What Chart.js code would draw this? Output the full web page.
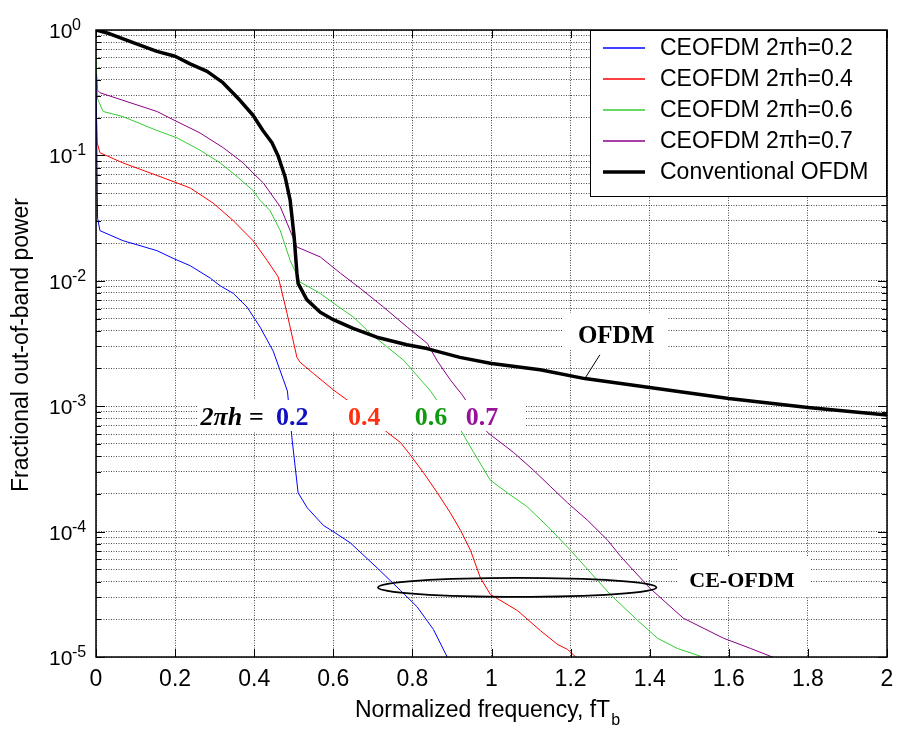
<!DOCTYPE html>
<html><head><meta charset="utf-8">
<script src="https://cdn.jsdelivr.net/npm/chart.js@4.4.0/dist/chart.umd.min.js"></script>
<style>html,body{margin:0;padding:0;background:#fff;}canvas{display:block;}</style>
</head><body>
<canvas id="c" width="897" height="729"></canvas>
<script>
// ---------------- DATA ----------------
const seriesLabels = ['CEOFDM 2\u03C0h=0.2', 'CEOFDM 2\u03C0h=0.4', 'CEOFDM 2\u03C0h=0.6', 'CEOFDM 2\u03C0h=0.7', 'Conventional OFDM'];

const freqH02 = [0, 0.004, 0.01, 0.068, 0.154, 0.195, 0.238, 0.289, 0.314, 0.347, 0.382, 0.415, 0.448, 0.484, 0.496, 0.511, 0.534, 0.575, 0.6, 0.643, 0.711, 0.77, 0.812, 0.853, 0.888, 0.9];
const powH02 = [0.447, 0.0316, 0.0251, 0.0209, 0.0174, 0.0151, 0.0132, 0.0105, 0.00912, 0.00794, 0.00617, 0.00427, 0.00275, 0.00132, 0.000537, 0.000204, 0.000155, 0.000112, 0.0001, 8.13e-5, 5.13e-5, 3.39e-5, 2.51e-5, 1.66e-5, 1.0e-5, 8.3e-6];

const freqH04 = [0, 0.003, 0.01, 0.068, 0.154, 0.205, 0.238, 0.296, 0.347, 0.397, 0.433, 0.461, 0.483, 0.508, 0.516, 0.55, 0.6, 0.635, 0.737, 0.77, 0.795, 0.828, 0.863, 0.896, 0.922, 0.947, 0.972, 0.997, 1.066, 1.124, 1.167, 1.192, 1.213, 1.225];
const powH04 = [0.316, 0.126, 0.105, 0.0871, 0.0692, 0.0603, 0.055, 0.0417, 0.0302, 0.0209, 0.0145, 0.0107, 0.0055, 0.00245, 0.00224, 0.00182, 0.00135, 0.00112, 0.000617, 0.000513, 0.000407, 0.000295, 0.000204, 0.000141, 0.000102, 7.08e-5, 4.27e-5, 3.16e-5, 2.34e-5, 1.62e-5, 1.26e-5, 1.15e-5, 1.0e-5, 8.7e-6];

const freqH06 = [0, 0.004, 0.018, 0.068, 0.154, 0.205, 0.263, 0.314, 0.357, 0.397, 0.415, 0.44, 0.466, 0.491, 0.516, 0.567, 0.61, 0.651, 0.694, 0.737, 0.777, 0.846, 0.863, 0.922, 0.955, 0.997, 1.04, 1.09, 1.142, 1.2, 1.251, 1.3, 1.37, 1.42, 1.47, 1.534, 1.55];
const powH06 = [0.603, 0.282, 0.224, 0.204, 0.158, 0.138, 0.11, 0.0871, 0.0676, 0.0525, 0.0437, 0.0363, 0.0251, 0.0145, 0.00977, 0.00794, 0.00631, 0.00513, 0.0038, 0.00295, 0.00234, 0.00132, 0.0011, 0.000646, 0.000427, 0.000257, 0.000204, 0.000158, 0.00011, 7.08e-5, 4.68e-5, 3.16e-5, 1.95e-5, 1.41e-5, 1.17e-5, 1.0e-5, 9.3e-6];

const freqH07 = [0, 0.004, 0.01, 0.068, 0.154, 0.205, 0.263, 0.322, 0.372, 0.397, 0.423, 0.466, 0.491, 0.508, 0.567, 0.618, 0.668, 0.727, 0.787, 0.838, 0.863, 0.896, 0.926, 0.99, 1.056, 1.106, 1.149, 1.192, 1.243, 1.294, 1.327, 1.4, 1.485, 1.587, 1.655, 1.71, 1.73];
const powH07 = [0.501, 0.331, 0.316, 0.275, 0.224, 0.186, 0.151, 0.115, 0.0871, 0.0724, 0.0603, 0.0389, 0.0251, 0.0186, 0.0155, 0.0115, 0.00871, 0.00617, 0.00427, 0.00316, 0.00229, 0.00162, 0.00123, 0.000617, 0.000427, 0.000309, 0.000229, 0.00017, 0.000123, 8.51e-5, 6.31e-5, 3.55e-5, 2.04e-5, 1.41e-5, 1.17e-5, 1.0e-5, 9.3e-6];

const freqOFDM = [0, 0.035, 0.094, 0.154, 0.2, 0.238, 0.281, 0.321, 0.364, 0.397, 0.422, 0.445, 0.46, 0.478, 0.491, 0.501, 0.508, 0.511, 0.533, 0.567, 0.6, 0.65, 0.71, 0.786, 0.837, 0.92, 1.0, 1.123, 1.236, 1.4, 1.6, 1.8, 2.0];
const powOFDM = [1, 0.933, 0.794, 0.676, 0.617, 0.537, 0.468, 0.380, 0.275, 0.209, 0.158, 0.126, 0.1, 0.0676, 0.0437, 0.0224, 0.0115, 0.00955, 0.00708, 0.00562, 0.0049, 0.00417, 0.00355, 0.00309, 0.00288, 0.00245, 0.00219, 0.00195, 0.00166, 0.00141, 0.00115, 0.000977, 0.000851];

const xTickValues = [0, 0.2, 0.4, 0.6, 0.8, 1, 1.2, 1.4, 1.6, 1.8, 2];
const xTickLabels = ['0', '0.2', '0.4', '0.6', '0.8', '1', '1.2', '1.4', '1.6', '1.8', '2'];
const yDecadeExponents = [0, -1, -2, -3, -4, -5];
const yMinorMultipliers = [1, 2, 3, 4, 5, 6, 7, 8, 9];

const hLabelText = '2\u03C0h =';
const hLabelValues = ['0.2', '0.4', '0.6', '0.7'];

// ---------------- STYLE ----------------
const SANS = "'Liberation Sans', Arial, Helvetica, sans-serif";
const SERIF = "'Liberation Serif', 'Times New Roman', Times, serif";
const lineColors = ['#0000ff', '#ff0000', '#33cc33', '#880088', '#000000'];
const lineWidths = [1, 1, 1, 1, 3.5];
const hValueColors = ['#1010c0', '#ff3010', '#109a10', '#9a109a'];

const yGridValues = [];
yDecadeExponents.slice().reverse().forEach(e => {
  yMinorMultipliers.forEach(m => {
    const v = m * Math.pow(10, e);
    if (v <= 1.0000001) yGridValues.push(+v.toPrecision(3));
  });
});

const pairs = (xs, ys) => xs.map((x, i) => ({x: x, y: ys[i]}));
const allFreq = [freqH02, freqH04, freqH06, freqH07, freqOFDM];
const allPow = [powH02, powH04, powH06, powH07, powOFDM];

const datasets = allFreq.map((f, i) => ({
  label: seriesLabels[i],
  data: pairs(f, allPow[i]),
  borderColor: lineColors[i],
  backgroundColor: lineColors[i],
  borderWidth: lineWidths[i],
  showLine: true,
  pointRadius: 0,
  tension: 0,
  borderJoinStyle: 'round',
  order: i === 4 ? 0 : 1
}));

function drawLine(ctx, x1, y1, x2, y2) {
  ctx.beginPath(); ctx.moveTo(x1, y1); ctx.lineTo(x2, y2); ctx.stroke();
}

const decor = {
  id: 'decor',
  afterDatasetsDraw(chart) {
    const {ctx, chartArea: a, scales} = chart;
    const X = v => scales.x.getPixelForValue(v);
    const Y = v => scales.y.getPixelForValue(v);
    ctx.save();
    // inward ticks
    ctx.strokeStyle = '#000';
    ctx.lineWidth = 1;
    yGridValues.forEach(v => {
      const py = Math.round(Y(v)) + 0.5;
      const major = Math.abs(Math.log10(v) - Math.round(Math.log10(v))) < 1e-6;
      const len = major ? 9 : 5;
      drawLine(ctx, a.left, py, a.left + len, py);
      drawLine(ctx, a.right, py, a.right - len, py);
    });
    xTickValues.forEach(v => {
      const px = Math.round(X(v)) + 0.5;
      drawLine(ctx, px, a.bottom, px, a.bottom - 8);
      drawLine(ctx, px, a.top, px, a.top + 8);
    });
    // frame
    ctx.lineWidth = 1.5;
    ctx.strokeRect(a.left, a.top, a.right - a.left, a.bottom - a.top);

    // annotation boxes
    const whiteBox = (x1, y1, x2, y2) => {
      ctx.fillStyle = '#fff';
      ctx.fillRect(X(x1), Y(y1), X(x2) - X(x1), Y(y2) - Y(y1));
    };
    // 2πh = ...
    whiteBox(0.258, 0.00112, 1.085, 0.000634);
    ctx.textAlign = 'center';
    ctx.textBaseline = 'alphabetic';
    ctx.font = "italic bold 26px " + SERIF;
    ctx.fillStyle = '#000';
    ctx.fillText(hLabelText, X(0.344), Y(0.000708));
    ctx.font = "bold 26px " + SERIF;
    const hx = [0.496, 0.678, 0.847, 0.976];
    hLabelValues.forEach((t, i) => {
      ctx.fillStyle = hValueColors[i];
      ctx.fillText(t, X(hx[i]), Y(0.000708));
    });
    // OFDM
    whiteBox(1.181, 0.00553, 1.446, 0.0028);
    ctx.fillStyle = '#000';
    ctx.font = "bold 25px " + SERIF;
    ctx.fillText('OFDM', X(1.315), Y(0.00319));
    ctx.strokeStyle = '#000';
    ctx.lineWidth = 1;
    drawLine(ctx, X(1.274), Y(0.00257), X(1.236), Y(0.00166));
    // CE-OFDM
    whiteBox(1.469, 6.3e-5, 1.805, 3.0e-5);
    ctx.fillStyle = '#000';
    ctx.font = "bold 22px " + SERIF;
    ctx.fillText('CE-OFDM', X(1.633), Y(3.63e-5));
    // ellipse
    const ex1 = X(0.713), ex2 = X(1.417), ey1 = Y(4.27e-5), ey2 = Y(3.02e-5);
    ctx.beginPath();
    ctx.ellipse((ex1 + ex2) / 2, (ey1 + ey2) / 2, (ex2 - ex1) / 2, (ey2 - ey1) / 2, 0, 0, Math.PI * 2);
    ctx.lineWidth = 1.8;
    ctx.stroke();
    ctx.restore();
  },
  afterDraw(chart) {
    const {ctx, chartArea: a, scales} = chart;
    const Y = v => scales.y.getPixelForValue(v);
    ctx.save();
    // y tick labels 10^n
    ctx.fillStyle = '#000';
    ctx.textAlign = 'left';
    ctx.textBaseline = 'alphabetic';
    yDecadeExponents.forEach(e => {
      const py = Y(Math.pow(10, e));
      ctx.font = "21px " + SANS;
      ctx.fillText('10', 49, py + 8);
      ctx.font = "16px " + SANS;
      ctx.fillText(String(e), 72, py);
    });
    // x title with subscript
    ctx.font = "23px " + SANS;
    const main = 'Normalized frequency, fT';
    const wMain = ctx.measureText(main).width;
    ctx.font = "16px " + SANS;
    const wSub = ctx.measureText('b').width;
    const sx = 487 - (wMain + wSub) / 2;
    ctx.font = "23px " + SANS;
    ctx.fillText(main, sx, 717);
    ctx.font = "16px " + SANS;
    ctx.fillText('b', sx + wMain + 1, 725);
    // y title
    ctx.save();
    ctx.translate(22, 345);
    ctx.rotate(-Math.PI / 2);
    ctx.textAlign = 'center';
    ctx.textBaseline = 'middle';
    ctx.font = "23px " + SANS;
    ctx.fillText('Fractional out-of-band power', 0, 0);
    ctx.restore();

    // legend (anchored to the plot's top-right corner)
    const lw = 297, lh = 167;
    const lx = a.right - lw, ly = a.top;
    ctx.fillStyle = '#fff';
    ctx.fillRect(lx, ly, lw, lh);
    ctx.strokeStyle = '#000';
    ctx.lineWidth = 1;
    ctx.strokeRect(lx + 0.5, ly + 0.5, lw - 1, lh - 1);
    ctx.font = "23px " + SANS;
    ctx.textBaseline = 'middle';
    ctx.textAlign = 'left';
    chart.data.datasets.forEach((ds, i) => {
      const rowY = ly + 18 + i * 31;
      ctx.strokeStyle = ds.borderColor;
      ctx.lineWidth = ds.borderWidth > 2 ? ds.borderWidth : 1.5;
      drawLine(ctx, lx + 13, rowY, lx + 55, rowY);
      ctx.fillStyle = '#000';
      ctx.fillText(ds.label, lx + 70, rowY + 1);
    });
    ctx.restore();
  }
};

new Chart(document.getElementById('c'), {
  type: 'scatter',
  data: {datasets: datasets},
  plugins: [decor],
  options: {
    responsive: false,
    animation: false,
    events: [],
    layout: {padding: {top: 30, right: 10, left: 0, bottom: 0}},
    plugins: {legend: {display: false}, tooltip: {enabled: false}},
    scales: {
      x: {
        type: 'linear', min: 0, max: 2,
        afterBuildTicks: s => { s.ticks = xTickValues.map(v => ({value: v})); },
        afterFit: s => { s.height = 72; s.paddingRight = 0; },
        ticks: {
          autoSkip: false, maxRotation: 0,
          callback: (v, i) => xTickLabels[i],
          font: {family: SANS, size: 23}, color: '#000', padding: 9
        },
        grid: {color: 'rgba(0,0,0,0.7)', lineWidth: 1, drawTicks: false},
        border: {display: false, dash: [1, 1.5]}
      },
      y: {
        type: 'logarithmic', min: 1e-5, max: 1,
        afterBuildTicks: s => { s.ticks = yGridValues.map(v => ({value: v})); },
        afterFit: s => { s.width = 96; },
        ticks: {autoSkip: false, callback: () => '', display: true},
        grid: {color: 'rgba(0,0,0,0.7)', lineWidth: 1, drawTicks: false},
        border: {display: false, dash: [1, 1.5]}
      }
    }
  }
});
</script>
</body></html>
